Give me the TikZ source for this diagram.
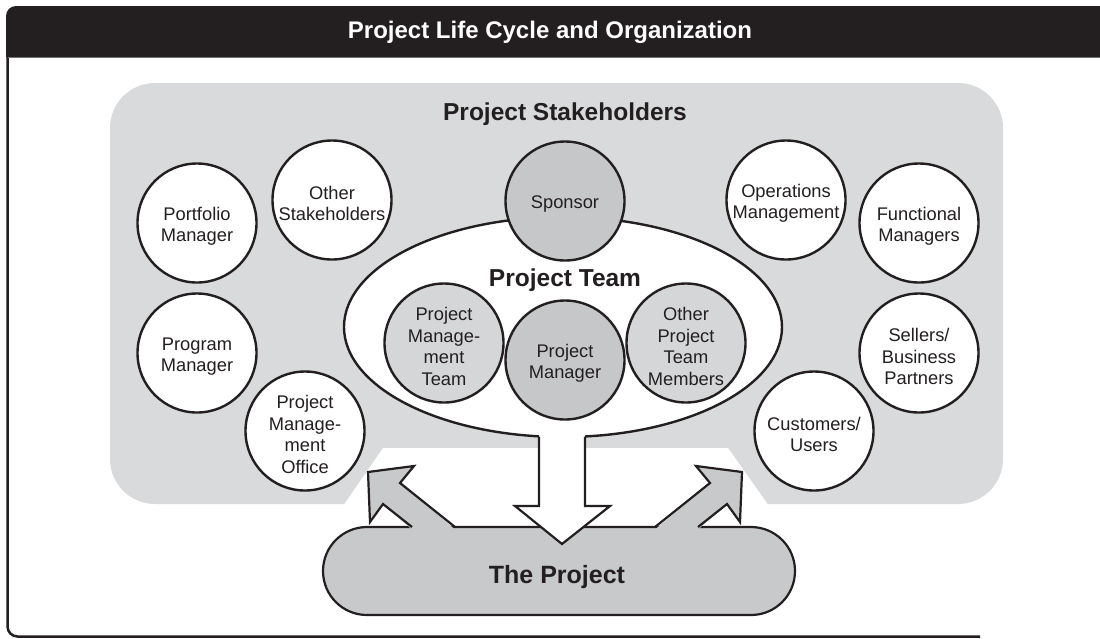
\documentclass[tikz,border=0pt]{standalone}
\usepackage{fontspec}
\setmainfont{Liberation Sans}
\usetikzlibrary{shapes.geometric}
\definecolor{ink}{HTML}{231F20}
\definecolor{bggray}{HTML}{D9DADB}
\definecolor{dkgray}{HTML}{C6C7C9}
\definecolor{ltgray}{HTML}{D5D6D8}
\definecolor{prjgray}{HTML}{C8C9CB}
\begin{document}
\begin{tikzpicture}[x=1pt,y=-1pt,
  circ/.style={circle,draw=ink,line width=2.4pt,minimum size=119pt,inner sep=0pt},
  ctext/.style={align=center,text=ink,inner sep=0pt,yshift=-3.5pt,font=\fontsize{18.3}{21.5}\selectfont},
  wcirc/.style={circ,fill=white,label={[ctext]center:#1}},
  dcirc/.style={circ,fill=dkgray,label={[ctext]center:#1}},
  lcirc/.style={circ,fill=ltgray,label={[ctext]center:#1}},
  bigbold/.style={font=\fontsize{24.5}{28}\selectfont\bfseries,text=ink,anchor=base,inner sep=0pt},
  outline/.style={draw=ink,line width=2.2pt,line join=miter}]
\useasboundingbox (0,0) rectangle (1100,638);

% frame
\draw[ink,line width=2.5pt,rounded corners=10pt] (7.5,40) -- (7.5,636.5) -- (980,636.5);
\fill[ink] (6,57) [rounded corners=10pt] -- (6,6) [sharp corners] -- (1100,6) -- (1100,57) -- cycle;
\draw[black!55,line width=1pt] (8,57.5) -- (1100,57.5);
\node[font=\fontsize{24}{28}\selectfont\bfseries,text=white,anchor=base,inner sep=0pt] (title) at (550,38.5) {Project Life Cycle and Organization};

% stakeholders background
\fill[bggray,rounded corners=45pt] (110,83) rectangle (1003,504);
\fill[white] (343,506) -- (383,448) -- (728,448) -- (769,506) -- cycle;
\node[bigbold] (stk) at (565,120) {Project Stakeholders};

% stakeholder circles
\node[wcirc={Portfolio\\Manager}] (portfolio) at (197,223) {};
\node[wcirc={Other\\Stakeholders}] (otherst) at (332,200) {};
\node[wcirc={Program\\Manager}] (program) at (197,353) {};
\node[wcirc={Project\\Manage-\\ment\\Office}] (pmo) at (305,431) {};
\node[wcirc={Operations\\Management}] (opsm) at (786,200) {};
\node[wcirc={Functional\\Managers}] (funcm) at (919,223) {};
\node[wcirc={Sellers/\\Business\\Partners}] (sellers) at (919,353) {};
\node[wcirc={Customers/\\Users}] (customers) at (814,431) {};

% project team
\node[ellipse,draw=ink,fill=white,line width=2.4pt,minimum width=438pt,minimum height=220pt,inner sep=0pt] (team) at (563,327) {};
\node[dcirc={Sponsor}] (sponsor) at (565,201) {};
\node[bigbold] (teamlbl) at (565,286.5) {Project Team};
\node[lcirc={Project\\Manage-\\ment\\Team}] (pmt) at (444,343) {};
\node[lcirc={Other\\Project\\Team\\Members}] (optm) at (686,343) {};
\node[dcirc={Project\\Manager}] (pm) at (565,360) {};

% the project
\node[draw=ink,fill=prjgray,line width=2.2pt,rectangle,rounded corners=44pt,minimum width=472pt,minimum height=88pt,inner sep=0pt] (project) at (559,571) {};
\node[bigbold,font=\fontsize{25}{28}\selectfont\bfseries] (projlbl) at (557,583) {The Project};

% up arrows
\fill[prjgray] (412,529.5) -- (383,504) -- (370,522) -- (368,472) -- (414,466) -- (400,483) -- (455,529.5) -- cycle;
\draw[outline] (412,527) -- (383,504) -- (370,522) -- (368,472) -- (414,466) -- (400,483) -- (455,527);
\fill[prjgray] (698,529.5) -- (727,504) -- (740,522) -- (742,472) -- (696,466) -- (710,483) -- (655,529.5) -- cycle;
\draw[outline] (698,527) -- (727,504) -- (740,522) -- (742,472) -- (696,466) -- (710,483) -- (655,527);

% down arrow
\fill[white] (539,428) -- (539,506) -- (515,506) -- (562,544) -- (610,506) -- (585,506) -- (585,428) -- cycle;
\draw[outline] (539,436.5) -- (539,506) -- (515,506) -- (562,544) -- (610,506) -- (585,506) -- (585,436.5);
\end{tikzpicture}
\end{document}
